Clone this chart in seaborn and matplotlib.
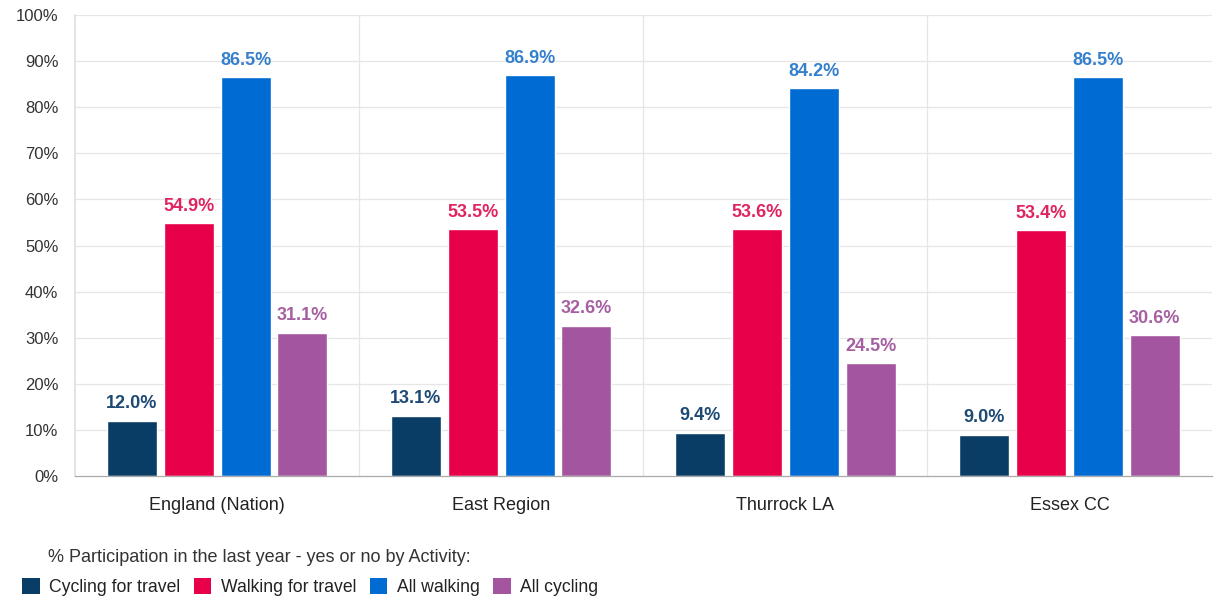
import matplotlib
matplotlib.use("Agg")
import matplotlib.pyplot as plt
import seaborn as sns
import pandas as pd
from matplotlib.patches import Patch
from matplotlib.ticker import FixedLocator

categories = ["England (Nation)", "East Region", "Thurrock LA", "Essex CC"]
series = ["Cycling for travel", "Walking for travel", "All walking", "All cycling"]
cycling_travel = [12.0, 13.1, 9.4, 9.0]
walking_travel = [54.9, 53.5, 53.6, 53.4]
all_walking = [86.5, 86.9, 84.2, 86.5]
all_cycling = [31.1, 32.6, 24.5, 30.6]
yticks = [0, 10, 20, 30, 40, 50, 60, 70, 80, 90, 100]

bar_colors = ["#0a3d66", "#e8004a", "#006bd3", "#a3569f"]
label_colors = ["#1d4a74", "#e0245e", "#3580cc", "#a660a2"]

values = [cycling_travel, walking_travel, all_walking, all_cycling]
rows = []
for s, vals in zip(series, values):
    for c, v in zip(categories, vals):
        rows.append({"Area": c, "Activity": s, "Value": v})
df = pd.DataFrame(rows)

sns.set_theme(style="white")
plt.rcParams['font.family'] = ['Liberation Sans', 'DejaVu Sans']

fig = plt.figure(figsize=(12.14, 5.96), dpi=100)
ax = fig.add_axes([0.0618, 0.2013, 0.9362, 0.7735])

sns.barplot(data=df, x="Area", y="Value", hue="Activity", order=categories,
            hue_order=series, palette=bar_colors, width=0.8, gap=0.12,
            saturation=1, ax=ax, legend=False)

for cont, col in zip(ax.containers, label_colors):
    ax.bar_label(cont, labels=[f"{v:.1f}%" for v in cont.datavalues],
                 padding=6, color=col, fontsize=13, fontweight="bold")

ax.set_ylim(0, 100)
ax.set_xlim(-0.5, len(categories) - 0.5)
ax.set_yticks(yticks)
ax.set_yticklabels([f"{t}%" for t in yticks], fontsize=12, color="#333333")
ax.tick_params(axis="x", which="major", labelsize=13, colors="#222222", pad=15, length=0)
ax.xaxis.set_minor_locator(FixedLocator([-0.5, 0.5, 1.5, 2.5, 3.5]))
ax.tick_params(axis="x", which="minor", length=12, color="#e2e2e2", width=0.9)
ax.tick_params(axis="y", length=10, pad=2, color="#aaaaaa", width=0.9)
for tk in ax.yaxis.get_major_ticks()[1:]:
    tk.tick1line.set_visible(False)
ax.set_xlabel("")
ax.set_ylabel("")
for t in yticks[1:]:
    ax.axhline(t, color="#e6e6e6", lw=0.9, zorder=0)
for x in [0.5, 1.5, 2.5]:
    ax.axvline(x, color="#e6e6e6", lw=0.9, zorder=0)
for sp in ["top", "right"]:
    ax.spines[sp].set_visible(False)
ax.spines["left"].set_color("#e0e0e0")
ax.spines["bottom"].set_color("#aaaaaa")
ax.spines["bottom"].set_linewidth(0.9)

fig.text(0.0395, 0.0638, "% Participation in the last year - yes or no by Activity:",
         fontsize=13, color="#333333", va="center")
handles = [Patch(facecolor=c, edgecolor="none") for c in bar_colors]
fig.legend(handles, series, loc="center left", bbox_to_anchor=(0.005, 0.015),
           ncol=4, frameon=False, fontsize=12.7, handlelength=1.0, handleheight=1.0,
           handletextpad=0.55, columnspacing=0.75, labelcolor="#222222")

fig.savefig("out.png", dpi=100)
